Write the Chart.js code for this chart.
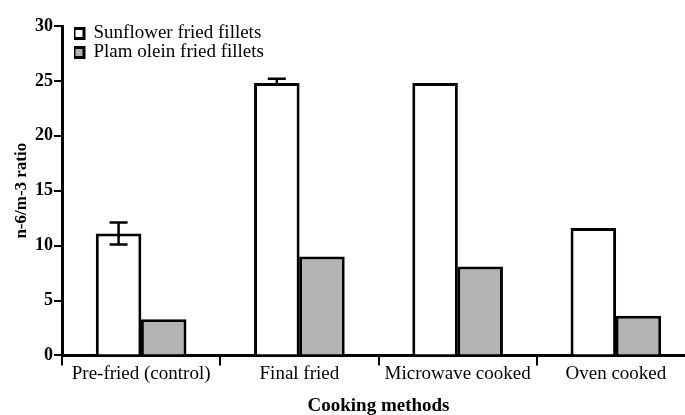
<!DOCTYPE html>
<html>
<head>
<meta charset="utf-8">
<script src="https://cdn.jsdelivr.net/npm/chart.js@4/dist/chart.umd.min.js"></script>
<style>
html, body { margin: 0; padding: 0; background: #fff; overflow: hidden; }
#wrap { width: 695px; height: 415px; }
</style>
</head>
<body>
<div id="wrap"><canvas id="chart" width="695" height="415"></canvas></div>
<script>
'use strict';

let methods = ['Pre-fried (control)', 'Final fried', 'Microwave cooked', 'Oven cooked'];
let sunflower = [11.1, 24.8, 24.8, 11.6];
let sunflowerErrUp = [1.0, 0.4, 0, 0];
let sunflowerErrDown = [1.0, 0, 0, 0];
let palmOlein = [3.3, 9.0, 8.1, 3.6];
let yTicks = [0, 5, 10, 15, 20, 25, 30];

let serif = "'Liberation Serif', 'Times New Roman', serif";

// error bars on the sunflower series
let errorBars = {
  id: 'errorBars',
  afterDatasetsDraw(chart) {
    let ctx = chart.ctx;
    let meta = chart.getDatasetMeta(0);
    let y = chart.scales.y;
    ctx.save();
    ctx.strokeStyle = '#000';
    ctx.lineWidth = 2.5;
    meta.data.forEach((bar, i) => {
      let up = sunflowerErrUp[i];
      let down = sunflowerErrDown[i];
      if (!up && !down) return;
      let top = y.getPixelForValue(sunflower[i] + up);
      let bottom = y.getPixelForValue(sunflower[i] - down);
      ctx.beginPath();
      ctx.moveTo(bar.x, top);
      ctx.lineTo(bar.x, bottom);
      ctx.moveTo(bar.x - 9, top);
      ctx.lineTo(bar.x + 9, top);
      if (down) {
        ctx.moveTo(bar.x - 9, bottom);
        ctx.lineTo(bar.x + 9, bottom);
      }
      ctx.stroke();
    });
    ctx.restore();
  }
};

// nudge the legend a bit into the plot
let legendShift = {
  id: 'legendShift',
  afterLayout(chart) {
    chart.legend.left += 12;
    chart.legend.top += 24;
  }
};

let ctx = document.getElementById('chart').getContext('2d');
let myChart = new Chart(ctx, {
  type: 'bar',
  data: {
    labels: methods,
    datasets: [{
      label: 'Sunflower fried fillets',
      data: sunflower,
      backgroundColor: '#ffffff',
      borderColor: '#000000',
      borderWidth: 3,
      borderSkipped: 'bottom'
    }, {
      label: 'Plam olein fried fillets',
      data: palmOlein,
      backgroundColor: '#b3b3b3',
      borderColor: '#000000',
      borderWidth: 3,
      borderSkipped: 'bottom'
    }]
  },
  options: {
    responsive: false,
    animation: false,
    layout: { padding: { top: 26, right: 0, left: 11, bottom: -2 } },
    datasets: { bar: { categoryPercentage: 0.57, barPercentage: 1.01 } },
    plugins: {
      tooltip: { enabled: false },
      legend: {
        position: 'chartArea',
        align: 'start',
        labels: {
          color: '#000',
          font: { family: serif, size: 19 },
          boxWidth: 10,
          boxHeight: 10,
          padding: 0,
          useBorderRadius: false
        }
      }
    },
    scales: {
      x: {
        offset: true,
        grid: { drawOnChartArea: false, offset: true, color: '#000', lineWidth: 2, tickLength: 10 },
        border: { color: '#000', width: 3 },
        ticks: { color: '#000', font: { family: serif, size: 19 }, padding: -3, maxRotation: 0 },
        title: { display: true, text: 'Cooking methods', color: '#000', font: { family: serif, size: 19, weight: 'bold' }, padding: { top: 12, bottom: 0 } }
      },
      y: {
        min: 0,
        max: 30,
        afterBuildTicks(scale) { scale.ticks = yTicks.map(v => ({ value: v })); },
        afterFit(scale) { scale.width = 51; },
        grid: { drawOnChartArea: false, color: '#000', lineWidth: 2, tickLength: 8 },
        border: { color: '#000', width: 3 },
        ticks: { color: '#000', font: { family: serif, size: 18, weight: 'bold' }, padding: 1 },
        title: { display: true, text: 'n-6/m-3 ratio', color: '#000', font: { family: serif, size: 17, weight: 'bold' }, padding: { top: 0, bottom: 4 } }
      }
    }
  },
  plugins: [errorBars, legendShift]
});
</script>
</body>
</html>
